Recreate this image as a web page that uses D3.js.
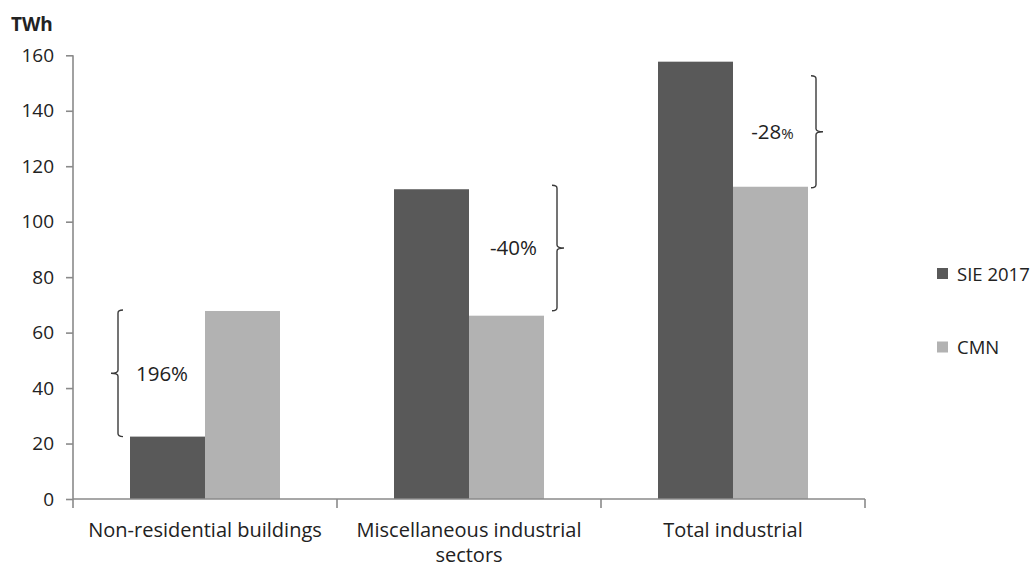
<!DOCTYPE html>
<html>
<head>
<meta charset="utf-8">
<script src="https://cdn.jsdelivr.net/npm/d3@7"></script>
<style>
  html, body { margin: 0; padding: 0; background: #fff; }
  svg { display: block; }
  text { font-family: "Open Sans", "Noto Sans", sans-serif; fill: #222; }
</style>
</head>
<body>
<svg id="chart" width="1035" height="564"></svg>
<script>
// Electricity consumption by sector, TWh
const categories = ["Non-residential buildings", "Miscellaneous industrial sectors", "Total industrial"];
const seriesNames = ["SIE 2017", "CMN"];
const sie2017 = [22.5, 111.7, 157.7];
const cmn = [67.8, 66.1, 112.6];
const changeLabels = ["196%", "-40%", "-28%"];
const yTicks = [0, 20, 40, 60, 80, 100, 120, 140, 160];

const colors = { "SIE 2017": "#595959", "CMN": "#b2b2b2" };

const svg = d3.select("#chart");

const plot = { left: 73, right: 865, top: 55.3, bottom: 499 };

const y = d3.scaleLinear().domain([0, 160]).range([plot.bottom, plot.top]);
const x0 = d3.scaleBand().domain(categories).range([plot.left, plot.right]).padding(0);
const x1 = d3.scaleBand().domain(seriesNames).range([0, x0.bandwidth()])
  .paddingInner(0).paddingOuter(0.76);

const rows = categories.map((c, i) => ({ cat: c, values: { "SIE 2017": sie2017[i], "CMN": cmn[i] } }));

// bars
const groups = svg.append("g").selectAll("g").data(rows).join("g")
  .attr("transform", d => `translate(${x0(d.cat)},0)`);
groups.selectAll("rect")
  .data(d => seriesNames.map(s => ({ s, v: d.values[s] })))
  .join("rect")
  .attr("x", d => x1(d.s))
  .attr("width", x1.bandwidth())
  .attr("y", d => y(d.v))
  .attr("height", d => y(0) - y(d.v))
  .attr("fill", d => colors[d.s]);

// y axis
const yAxis = svg.append("g")
  .attr("transform", `translate(${plot.left},0)`)
  .call(d3.axisLeft(y).tickValues(yTicks).tickSize(7).tickPadding(12).tickFormat(d3.format("d")));
yAxis.select(".domain").attr("stroke", "#8a8a8a").attr("stroke-width", 1.6)
  .attr("d", `M0,${plot.top}V${plot.bottom}`);
yAxis.selectAll(".tick line").attr("stroke", "#8a8a8a").attr("stroke-width", 1.6);
yAxis.selectAll(".tick text").attr("font-size", 19).attr("fill", "#222");

// x axis: ticks on category boundaries
const xAxisG = svg.append("g").attr("transform", `translate(0,${plot.bottom})`);
xAxisG.append("line")
  .attr("x1", plot.left).attr("x2", plot.right)
  .attr("stroke", "#8a8a8a").attr("stroke-width", 1.6);
const boundaries = categories.map(c => x0(c)).concat([x0(categories[categories.length - 1]) + x0.bandwidth()]);
xAxisG.selectAll("line.tk").data(boundaries).join("line").attr("class", "tk")
  .attr("x1", d => d).attr("x2", d => d).attr("y1", 0).attr("y2", 9)
  .attr("stroke", "#8a8a8a").attr("stroke-width", 1.6);

// category labels, wrapped to the band width
const labelLines = {
  "Non-residential buildings": ["Non-residential buildings"],
  "Miscellaneous industrial sectors": ["Miscellaneous industrial", "sectors"],
  "Total industrial": ["Total industrial"]
};
xAxisG.selectAll("text.cat").data(categories).join("text").attr("class", "cat")
  .attr("x", d => x0(d) + x0.bandwidth() / 2)
  .attr("y", 38)
  .attr("text-anchor", "middle")
  .attr("font-size", 20)
  .each(function (d) {
    d3.select(this).selectAll("tspan").data(labelLines[d]).join("tspan")
      .attr("x", x0(d) + x0.bandwidth() / 2)
      .attr("dy", (t, i) => i === 0 ? 0 : 25)
      .text(t => t);
  });

// unit label
svg.append("text").attr("x", 11).attr("y", 31)
  .attr("font-size", 19).attr("font-weight", "bold").text("TWh");

// curly brace path: vertical at vx from top to bottom, hooks toward dir, tip away from dir
function bracePath(vx, top, bottom, dir) {
  const h = 5, r = 3, tip = 7;
  const mid = (top + bottom) / 2;
  return `M${vx + dir * h},${top}` +
    `Q${vx},${top} ${vx},${top + r}` +
    `L${vx},${mid - r}` +
    `Q${vx},${mid} ${vx - dir * tip},${mid}` +
    `Q${vx},${mid} ${vx},${mid + r}` +
    `L${vx},${bottom - r}` +
    `Q${vx},${bottom} ${vx + dir * h},${bottom}`;
}

// change brackets between the two series in each category
const braces = [
  { vx: x0(categories[0]) + x1("SIE 2017") - 12, top: y(cmn[0]) - 1, bottom: y(sie2017[0]), dir: 1 },
  { vx: x0(categories[1]) + x1("CMN") + x1.bandwidth() + 13, top: y(sie2017[1]) - 4, bottom: y(cmn[1]) - 5, dir: -1 },
  { vx: x0(categories[2]) + x1("CMN") + x1.bandwidth() + 8, top: y(sie2017[2]) + 14, bottom: y(cmn[2]) + 1, dir: -1 }
];
svg.append("g").selectAll("path").data(braces).join("path")
  .attr("d", d => bracePath(d.vx, d.top, d.bottom, d.dir))
  .attr("fill", "none").attr("stroke", "#3a3a3a").attr("stroke-width", 1.4);

// change labels
const labelX = [
  x0(categories[0]) + x1("SIE 2017") + 32,
  x0(categories[1]) + x1("CMN") + x1.bandwidth() / 2 + 7,
  x0(categories[2]) + x1("CMN") + x1.bandwidth() / 2 + 2
];
const ann = svg.append("g");
braces.forEach((b, k) => {
  const t = ann.append("text")
    .attr("x", labelX[k])
    .attr("y", (b.top + b.bottom) / 2 + 7.5)
    .attr("text-anchor", "middle")
    .attr("font-size", 20.5);
  const lbl = changeLabels[k];
  if (k === 2) {
    t.append("tspan").text(lbl.slice(0, -1));
    t.append("tspan").attr("font-size", 15).text("%");
  } else {
    t.text(lbl);
  }
});

// legend
const legend = svg.append("g").attr("transform", "translate(937,0)");
const legendY = [273.5, 347];
seriesNames.forEach((s, i) => {
  legend.append("rect").attr("x", 0).attr("y", legendY[i] - 5.5).attr("width", 11).attr("height", 11)
    .attr("fill", colors[s]);
  legend.append("text").attr("x", 20).attr("y", legendY[i] + 7).attr("font-size", 18.5).text(s);
});
</script>
</body>
</html>
